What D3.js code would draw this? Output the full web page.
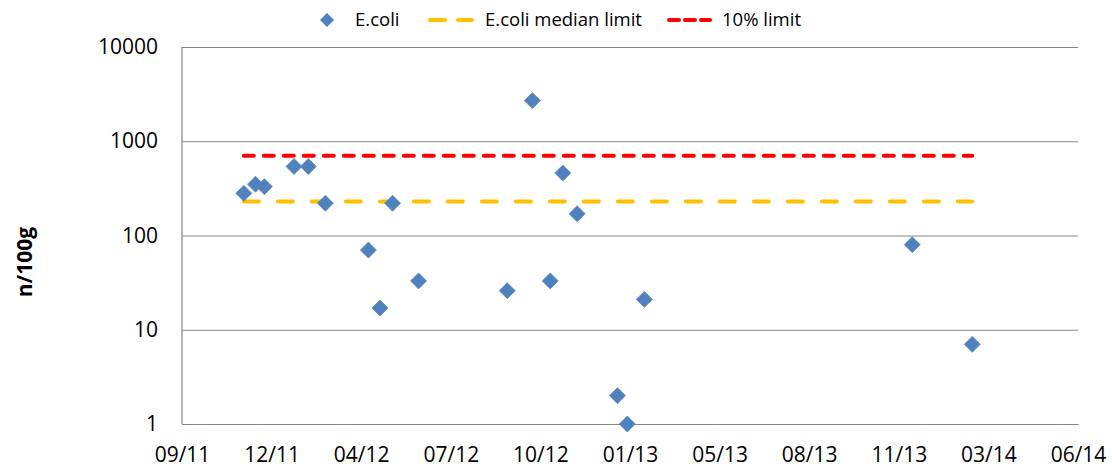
<!DOCTYPE html>
<html>
<head>
<meta charset="utf-8">
<script src="https://cdn.jsdelivr.net/npm/d3@7"></script>
<style>
    html, body { margin: 0; padding: 0; background: #fff; }
    svg { display: block; font-family: 'Open Sans', sans-serif; }
</style>
</head>
<body>
<div id="chart"></div>
<script>
// sampling dates and E.coli counts (n/100g)
const sampleDates = [
    '2011-11-22', '2011-12-05', '2011-12-15', '2012-01-17', '2012-02-02',
    '2012-02-21', '2012-04-09', '2012-04-22', '2012-05-06', '2012-06-04',
    '2012-09-11', '2012-10-09', '2012-10-29', '2012-11-12', '2012-11-28',
    '2013-01-12', '2013-01-23', '2013-02-11', '2013-12-07', '2014-02-12'
];
const ecoliValues = [
    280, 350, 330, 540, 540,
    220, 70, 17, 220, 33,
    26, 2700, 33, 460, 170,
    2, 1, 21, 80, 7
];
const medianLimit = 230;
const tenPercentLimit = 700;

// axis ticks (Excel date axis, 100-day major unit)
const xTickDates = [
    '2011-09-14', '2011-12-23', '2012-04-01', '2012-07-10', '2012-10-18',
    '2013-01-26', '2013-05-06', '2013-08-14', '2013-11-22', '2014-03-02', '2014-06-10'
];
const yTickValues = [1, 10, 100, 1000, 10000];

const width = 1112;
const height = 470;
const plot = { left: 182, right: 1078, top: 47, bottom: 424 };
const gridColor = '#878787';
const markerColor = '#4f81bd';

const parse = d3.utcParse('%Y-%m-%d');
const fmt = d3.utcFormat('%m/%y');

const points = sampleDates.map((d, i) => ({ date: parse(d), value: ecoliValues[i] }));
const ticks = xTickDates.map(parse);

const x = d3.scaleUtc()
    .domain(d3.extent(ticks))
    .range([plot.left, plot.right]);

const y = d3.scaleLog()
    .domain([1, 10000])
    .range([plot.bottom, plot.top]);

const svg = d3.select('#chart').append('svg')
    .attr('width', width)
    .attr('height', height)
    .attr('viewBox', [0, 0, width, height]);

// horizontal grid + y axis
svg.append('g')
    .attr('transform', `translate(${plot.left},0)`)
    .call(d3.axisLeft(y)
        .tickValues(yTickValues)
        .tickFormat(d3.format('d'))
        .tickSize(-(plot.right - plot.left))
        .tickPadding(24))
    .call(g => {
        g.select('.domain').remove();
        g.selectAll('.tick line').attr('stroke', gridColor).attr('stroke-width', 1.2);
        g.selectAll('.tick text')
            .attr('fill', '#000')
            .attr('font-size', 21)
            .attr('font-family', "'Open Sans', sans-serif");
    });

// left axis line
svg.append('line')
    .attr('x1', plot.left).attr('x2', plot.left)
    .attr('y1', plot.top).attr('y2', plot.bottom)
    .attr('stroke', gridColor)
    .attr('stroke-width', 1.2);

// x axis
svg.append('g')
    .attr('transform', `translate(0,${plot.bottom})`)
    .call(d3.axisBottom(x)
        .tickValues(ticks)
        .tickFormat(fmt)
        .tickSize(0)
        .tickPadding(23))
    .call(g => {
        g.select('.domain').attr('stroke', gridColor).attr('stroke-width', 1.2);
        g.selectAll('.tick text')
            .attr('fill', '#000')
            .attr('font-size', 21)
            .attr('font-family', "'Open Sans', sans-serif");
    });

// y axis title
svg.append('text')
    .attr('transform', 'translate(25,262) rotate(-90)')
    .attr('text-anchor', 'middle')
    .attr('dy', '0.35em')
    .attr('font-size', 21)
    .attr('font-weight', 'bold')
    .text('n/100g');

// limit lines span the sampling period
const dateExtent = d3.extent(points, d => d.date);
const limitLine = d3.line()
    .x(d => x(d[0]))
    .y(d => y(d[1]));

svg.append('path')
    .attr('d', limitLine(dateExtent.map(d => [d, medianLimit])))
    .attr('fill', 'none')
    .attr('stroke', '#ffc000')
    .attr('stroke-width', 4)
    .attr('stroke-linecap', 'round')
    .attr('stroke-dasharray', '15 19');

svg.append('path')
    .attr('d', limitLine(dateExtent.map(d => [d, tenPercentLimit])))
    .attr('fill', 'none')
    .attr('stroke', '#ff0000')
    .attr('stroke-width', 4)
    .attr('stroke-linecap', 'round')
    .attr('stroke-dasharray', '10 10');

// diamond markers
const diamond = r => `M0,${-r}L${r},0L0,${r}L${-r},0Z`;

svg.append('g')
    .selectAll('path')
    .data(points)
    .join('path')
    .attr('transform', d => `translate(${x(d.date)},${y(d.value)})`)
    .attr('d', diamond(8))
    .attr('fill', markerColor)
    .attr('stroke', '#5b8cc8')
    .attr('stroke-width', 0.8);

// legend
const legend = svg.append('g').attr('font-size', 18.5);
const legendY = 20;

legend.append('path')
    .attr('transform', `translate(327,${legendY})`)
    .attr('d', diamond(7))
    .attr('fill', markerColor);
legend.append('text')
    .attr('x', 355).attr('y', legendY).attr('dy', '0.35em')
    .text('E.coli');

legend.append('line')
    .attr('x1', 430).attr('x2', 472)
    .attr('y1', legendY).attr('y2', legendY)
    .attr('stroke', '#ffc000')
    .attr('stroke-width', 4)
    .attr('stroke-linecap', 'round')
    .attr('stroke-dasharray', '15 13');
legend.append('text')
    .attr('x', 485).attr('y', legendY).attr('dy', '0.35em')
    .text('E.coli median limit');

legend.append('line')
    .attr('x1', 669).attr('x2', 710)
    .attr('y1', legendY).attr('y2', legendY)
    .attr('stroke', '#ff0000')
    .attr('stroke-width', 4)
    .attr('stroke-linecap', 'round')
    .attr('stroke-dasharray', '10 6');
legend.append('text')
    .attr('x', 722).attr('y', legendY).attr('dy', '0.35em')
    .text('10% limit');
</script>
</body>
</html>
